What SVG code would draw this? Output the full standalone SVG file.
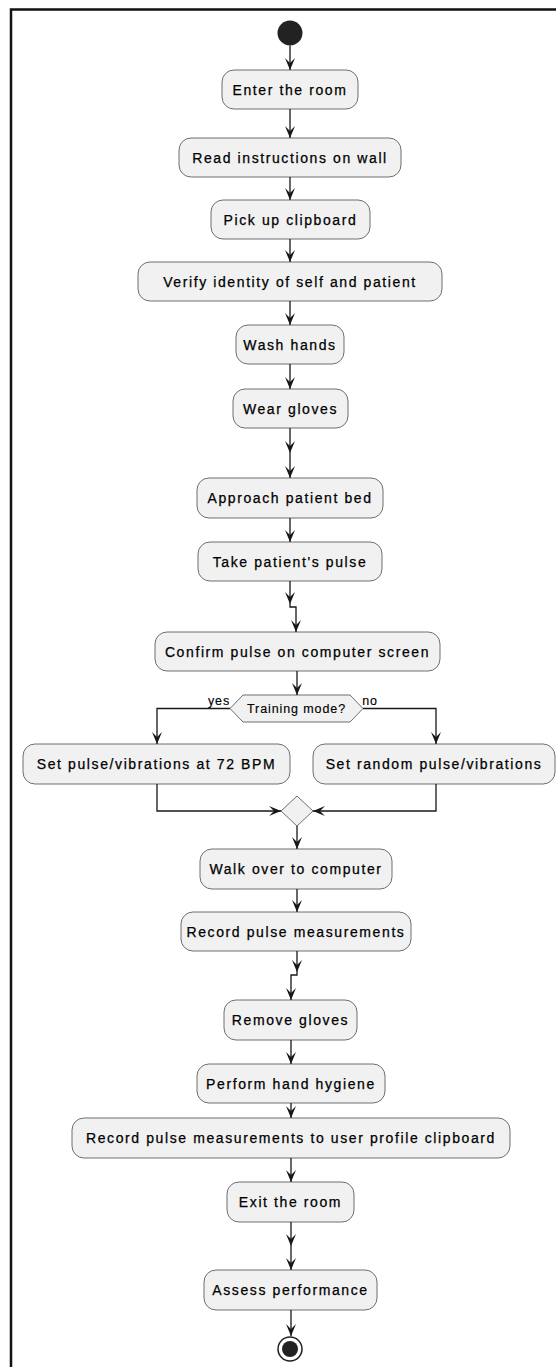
<svg xmlns="http://www.w3.org/2000/svg" width="556" height="1367" viewBox="0 0 556 1367">
  <style>
    .act rect { fill: #F1F1F1; stroke: #6e6e6e; stroke-width: 1; }
    .act text, .lbl { font-family: "Liberation Sans", Arial, sans-serif; font-size: 14px; fill: #000; stroke: #000; stroke-width: 0.25; text-anchor: middle; letter-spacing: 1.6px; }
    .lbl.small { font-size: 12.5px; letter-spacing: 0.9px; stroke-width: 0.15; }
    .edge { fill: none; stroke: #181818; stroke-width: 1.3; }
    .gate { fill: #F1F1F1; stroke: #6e6e6e; stroke-width: 1; }
  </style>
  <defs>
    <!-- open chevron arrowhead, tip at the path end -->
    <marker id="head" viewBox="0 0 14 12" refX="13" refY="6" markerWidth="14" markerHeight="12" markerUnits="userSpaceOnUse" orient="auto">
      <path d="M1,1 L13,6 L1,11 L6,6 Z" fill="#181818"/>
    </marker>
  </defs>

  <!-- frame -->
  <path d="M11,1367 V9.5 H556" fill="none" stroke="#111" stroke-width="2.5"/>

  <!-- start / end -->
  <g id="start"><circle cx="290" cy="33" r="12.5" fill="#222"/></g>
  <g id="end">
    <circle cx="290" cy="1349" r="12" fill="#fff" stroke="#222" stroke-width="1.5"/>
    <circle cx="290" cy="1349" r="8" fill="#222"/>
  </g>

  <!-- activities -->
  <g id="n1" class="act"><rect x="222" y="70" width="136" height="39" rx="12"/><text x="290" y="94.5">Enter the room</text></g>
  <g id="n2" class="act"><rect x="179" y="138" width="222" height="39" rx="12"/><text x="290" y="162.5">Read instructions on wall</text></g>
  <g id="n3" class="act"><rect x="211" y="200" width="159" height="39" rx="12"/><text x="290.5" y="224.5">Pick up clipboard</text></g>
  <g id="n4" class="act"><rect x="138" y="262" width="304" height="39" rx="12"/><text x="290" y="286.5">Verify identity of self and patient</text></g>
  <g id="n5" class="act"><rect x="236" y="325" width="108" height="39" rx="12"/><text x="290" y="349.5">Wash hands</text></g>
  <g id="n6" class="act"><rect x="233" y="389" width="115" height="39" rx="12"/><text x="290.5" y="413.5">Wear gloves</text></g>
  <g id="n7" class="act"><rect x="197" y="478" width="186" height="40" rx="12"/><text x="290" y="503">Approach patient bed</text></g>
  <g id="n8" class="act"><rect x="198" y="542" width="184" height="39" rx="12"/><text x="290" y="566.5">Take patient's pulse</text></g>
  <g id="n9" class="act"><rect x="155" y="632" width="285" height="39" rx="12"/><text x="297.5" y="656.5">Confirm pulse on computer screen</text></g>

  <g id="decision">
    <polygon class="gate" points="230,708.5 243,695 350,695 363,708.5 350,722 243,722"/>
    <text class="lbl small" x="296.5" y="713">Training mode?</text>
    <text class="lbl small" x="219" y="705">yes</text>
    <text class="lbl small" x="370" y="705">no</text>
  </g>

  <g id="n10" class="act"><rect x="23" y="744" width="267" height="40" rx="12"/><text x="156.5" y="769">Set pulse/vibrations at 72 BPM</text></g>
  <g id="n11" class="act"><rect x="313" y="744" width="242" height="40" rx="12"/><text x="434" y="769">Set random pulse/vibrations</text></g>

  <g id="merge"><polygon class="gate" points="297,796 313,811 297,826 281,811"/></g>

  <g id="n12" class="act"><rect x="200" y="849" width="192" height="40" rx="12"/><text x="296" y="874">Walk over to computer</text></g>
  <g id="n13" class="act"><rect x="181" y="912" width="230" height="39" rx="12"/><text x="296" y="936.5">Record pulse measurements</text></g>
  <g id="n14" class="act"><rect x="224" y="1000" width="133" height="40" rx="12"/><text x="290.5" y="1025">Remove gloves</text></g>
  <g id="n15" class="act"><rect x="197" y="1064" width="188" height="39" rx="12"/><text x="291" y="1088.5">Perform hand hygiene</text></g>
  <g id="n16" class="act"><rect x="72" y="1118" width="438" height="40" rx="12"/><text x="291" y="1143">Record pulse measurements to user profile clipboard</text></g>
  <g id="n17" class="act"><rect x="227" y="1182" width="127" height="40" rx="12"/><text x="290.5" y="1207">Exit the room</text></g>
  <g id="n18" class="act"><rect x="204" y="1270" width="173" height="40" rx="12"/><text x="290.5" y="1295">Assess performance</text></g>

  <!-- connectors -->
  <g id="connectors">
    <path class="edge" d="M290,45.5 V70" marker-end="url(#head)"/>
    <path class="edge" d="M290,109 V138" marker-end="url(#head)"/>
    <path class="edge" d="M290,177 V200" marker-end="url(#head)"/>
    <path class="edge" d="M290,239 V262" marker-end="url(#head)"/>
    <path class="edge" d="M290,301 V325" marker-end="url(#head)"/>
    <path class="edge" d="M290,364 V389" marker-end="url(#head)"/>
    <path class="edge" d="M290,428 V453" marker-end="url(#head)"/>
    <path class="edge" d="M290,453 V478" marker-end="url(#head)"/>
    <path class="edge" d="M290,518 V542" marker-end="url(#head)"/>
    <path class="edge" d="M290,581 V604" marker-end="url(#head)"/>
    <path class="edge" d="M290,604 V607 H296 V632" marker-end="url(#head)"/>
    <path class="edge" d="M297,671 V695" marker-end="url(#head)"/>
    <path class="edge" d="M230,708.5 H157 V744" marker-end="url(#head)"/>
    <path class="edge" d="M363,708.5 H436 V744" marker-end="url(#head)"/>
    <path class="edge" d="M157,784 V811 H281" marker-end="url(#head)"/>
    <path class="edge" d="M436,784 V811 H313" marker-end="url(#head)"/>
    <path class="edge" d="M297,826 V849" marker-end="url(#head)"/>
    <path class="edge" d="M297,889 V912" marker-end="url(#head)"/>
    <path class="edge" d="M297,951 V972" marker-end="url(#head)"/>
    <path class="edge" d="M297,972 V975 H291 V1000" marker-end="url(#head)"/>
    <path class="edge" d="M291,1040 V1064" marker-end="url(#head)"/>
    <path class="edge" d="M291,1103 V1118" marker-end="url(#head)"/>
    <path class="edge" d="M291,1158 V1182" marker-end="url(#head)"/>
    <path class="edge" d="M291,1222 V1246" marker-end="url(#head)"/>
    <path class="edge" d="M291,1246 V1270" marker-end="url(#head)"/>
    <path class="edge" d="M291,1310 V1336" marker-end="url(#head)"/>
  </g>
</svg>
